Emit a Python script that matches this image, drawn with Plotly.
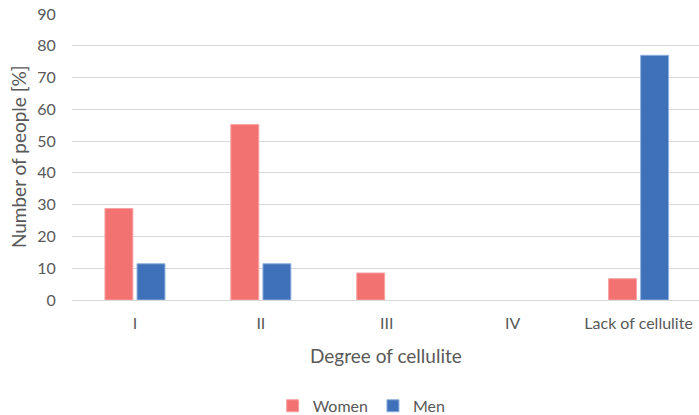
import plotly.graph_objects as go

categories = ["I", "II", "III", "IV", "Lack of cellulite"]
women = [28.8, 55.2, 8.5, 0, 6.7]
men = [11.4, 11.4, 0, 0, 77.0]
y_ticks = [0, 10, 20, 30, 40, 50, 60, 70, 80, 90]

TEXT = "#595959"
FONT = "Lato, Open Sans, sans-serif"


def outline(values):
    # no outline on empty bars so they stay invisible
    return [1 if v > 0 else 0 for v in values]


fig = go.Figure()
fig.add_trace(go.Bar(
    name="Women", x=categories, y=women,
    marker=dict(color="#F27171", line=dict(color="#F8A3A3", width=outline(women))),
))
fig.add_trace(go.Bar(
    name="Men", x=categories, y=men,
    marker=dict(color="#3E71B9", line=dict(color="#8FB0DD", width=outline(men))),
))

fig.update_layout(
    width=699, height=415,
    margin=dict(l=72, r=0, t=14, b=115, autoexpand=False),
    paper_bgcolor="white", plot_bgcolor="white",
    barmode="group", bargap=0.49, bargroupgap=0.13,
    font=dict(family=FONT, color=TEXT, size=16),
    showlegend=True,
    legend=dict(
        orientation="h", x=0.462, xanchor="center",
        yref="container", y=0.022, yanchor="middle",
        font=dict(size=16, color=TEXT), itemwidth=30, traceorder="normal",
    ),
    xaxis=dict(
        range=[-0.5, 4.48], showgrid=False, showline=False, zeroline=False,
        ticks="outside", ticklen=9, tickcolor="rgba(0,0,0,0)",
        tickfont=dict(size=16, color=TEXT), fixedrange=True,
    ),
    yaxis=dict(
        range=[0, 90], tickvals=y_ticks, showgrid=True, gridcolor="#D9D9D9",
        gridwidth=1, zeroline=True, zerolinecolor="#D9D9D9", zerolinewidth=1,
        showline=False, ticks="outside", ticklen=12, tickcolor="rgba(0,0,0,0)",
        tickfont=dict(size=16, color=TEXT),
    ),
    annotations=[
        dict(text="Degree of cellulite", xref="paper", yref="paper",
             x=0.5, y=-0.195, xanchor="center", yanchor="middle",
             showarrow=False, font=dict(size=19, color=TEXT)),
        dict(text="Number of people [%]", xref="paper", yref="paper",
             x=-0.086, y=0.5, xanchor="center", yanchor="middle", textangle=-90,
             showarrow=False, font=dict(size=19, color=TEXT)),
    ],
)

fig.write_html("out.html")
